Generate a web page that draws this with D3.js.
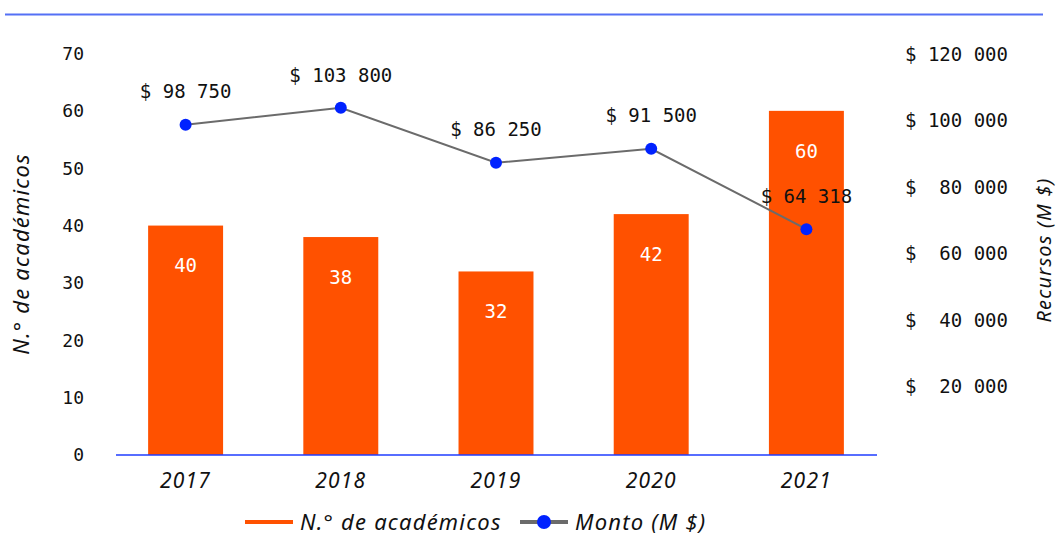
<!DOCTYPE html>
<html>
<head>
<meta charset="utf-8">
<script src="https://cdn.jsdelivr.net/npm/d3@7"></script>
<style>
  body { margin: 0; background: #fff; }
  svg { display: block; }
  .mono { font-family: "DejaVu Sans Mono", monospace; white-space: pre; }
  .ital { font-family: "Noto Sans", sans-serif; font-style: italic; letter-spacing: 1.2px; }
</style>
</head>
<body>
<svg width="1058" height="553"></svg>
<script>
const years = ['2017', '2018', '2019', '2020', '2021'];
const academicos = [40, 38, 32, 42, 60];
const montos = [98750, 103800, 87300, 91500, 67300];
const montoLabels = ['$ 98 750', '$ 103 800', '$ 86 250', '$ 91 500', '$ 64 318'];
const leftTicks = [0, 10, 20, 30, 40, 50, 60, 70];
const rightTicks = [20000, 40000, 60000, 80000, 100000, 120000];

const ORANGE = '#ff5100';
const BLUE = '#0022ff';
const GREY = '#6b6b6b';

const svg = d3.select('svg');

// top rule
svg.append('line')
  .attr('x1', 5).attr('x2', 1043).attr('y1', 14.5).attr('y2', 14.5)
  .attr('stroke', '#5470f5').attr('stroke-width', 2);

const x = d3.scaleBand()
  .domain(years)
  .range([108, 884])
  .padding(0);

const barW = x.bandwidth() * 0.483;

const yLeft = d3.scaleLinear()
  .domain([0, 70])
  .range([455, 53.5]);

const yRight = d3.scaleLinear()
  .domain([0, 120000])
  .range([453, 54]);

const spaced = v => d3.format(',')(v).replace(/,/g, ' ');

// left tick labels
svg.selectAll('.lt')
  .data(leftTicks)
  .enter()
  .append('text')
  .attr('class', 'mono')
  .attr('x', 84)
  .attr('y', d => yLeft(d))
  .attr('dy', '0.35em')
  .attr('text-anchor', 'end')
  .attr('font-size', 18)
  .attr('fill', '#111')
  .text(d => d);

// right tick labels
svg.selectAll('.rt')
  .data(rightTicks)
  .enter()
  .append('text')
  .attr('class', 'mono')
  .attr('x', 905)
  .attr('y', d => yRight(d))
  .attr('dy', '0.35em')
  .attr('font-size', 19)
  .attr('fill', '#111')
  .text(d => '$ ' + spaced(d).padStart(7, ' '));

// bars
svg.selectAll('.bar')
  .data(years)
  .enter()
  .append('rect')
  .attr('x', (d, i) => x(d) + (x.bandwidth() - barW) / 2)
  .attr('width', barW)
  .attr('y', (d, i) => yLeft(academicos[i]))
  .attr('height', (d, i) => yLeft(0) - yLeft(academicos[i]))
  .attr('fill', ORANGE);

// bar labels
svg.selectAll('.barlab')
  .data(years)
  .enter()
  .append('text')
  .attr('class', 'mono')
  .attr('x', d => x(d) + x.bandwidth() / 2)
  .attr('y', (d, i) => yLeft(academicos[i]) + 40)
  .attr('dy', '0.35em')
  .attr('text-anchor', 'middle')
  .attr('font-size', 19)
  .attr('fill', '#fff')
  .text((d, i) => academicos[i]);

// x axis line
svg.append('line')
  .attr('x1', x.range()[0] + 8).attr('x2', x.range()[1] - 7)
  .attr('y1', yLeft(0)).attr('y2', yLeft(0))
  .attr('stroke', '#1f3dff').attr('stroke-width', 1.5);

// category labels
svg.selectAll('.cat')
  .data(years)
  .enter()
  .append('text')
  .attr('class', 'ital')
  .attr('x', d => x(d) + x.bandwidth() / 2)
  .attr('y', 481)
  .attr('dy', '0.35em')
  .attr('text-anchor', 'middle')
  .attr('font-size', 21)
  .attr('fill', '#111')
  .text(d => d);

// line
const line = d3.line()
  .x((d, i) => x(years[i]) + x.bandwidth() / 2)
  .y(d => yRight(d));

svg.append('path')
  .datum(montos)
  .attr('d', line)
  .attr('fill', 'none')
  .attr('stroke', GREY)
  .attr('stroke-width', 2);

svg.selectAll('.dot')
  .data(montos)
  .enter()
  .append('circle')
  .attr('cx', (d, i) => x(years[i]) + x.bandwidth() / 2)
  .attr('cy', d => yRight(d))
  .attr('r', 6)
  .attr('fill', BLUE);

svg.selectAll('.mlab')
  .data(montos)
  .enter()
  .append('text')
  .attr('class', 'mono')
  .attr('x', (d, i) => x(years[i]) + x.bandwidth() / 2)
  .attr('y', d => yRight(d) - 33)
  .attr('dy', '0.35em')
  .attr('text-anchor', 'middle')
  .attr('font-size', 19)
  .attr('fill', '#111')
  .text((d, i) => montoLabels[i]);

// axis titles
svg.append('text')
  .attr('class', 'ital')
  .attr('transform', 'translate(21,254) rotate(-90)')
  .attr('dy', '0.35em')
  .attr('text-anchor', 'middle')
  .attr('font-size', 22)
  .attr('fill', '#111')
  .text('N.° de académicos');

svg.append('text')
  .attr('class', 'ital')
  .attr('transform', 'translate(1044,250) rotate(-90)')
  .attr('dy', '0.35em')
  .attr('text-anchor', 'middle')
  .attr('font-size', 20)
  .attr('fill', '#111')
  .text('Recursos (M $)');

// legend
const legend = svg.append('g').attr('transform', 'translate(0,522)');
legend.append('line')
  .attr('x1', 245).attr('x2', 293).attr('y1', 0).attr('y2', 0)
  .attr('stroke', ORANGE).attr('stroke-width', 4);
legend.append('text')
  .attr('class', 'ital')
  .attr('x', 300).attr('dy', '0.35em')
  .attr('font-size', 22).attr('fill', '#111')
  .text('N.° de académicos');
legend.append('line')
  .attr('x1', 520).attr('x2', 568).attr('y1', 0).attr('y2', 0)
  .attr('stroke', GREY).attr('stroke-width', 4);
legend.append('circle')
  .attr('cx', 544).attr('cy', 0).attr('r', 7).attr('fill', BLUE);
legend.append('text')
  .attr('class', 'ital')
  .attr('x', 575).attr('dy', '0.35em')
  .attr('font-size', 22).attr('fill', '#111')
  .text('Monto (M $)');
</script>
</body>
</html>
